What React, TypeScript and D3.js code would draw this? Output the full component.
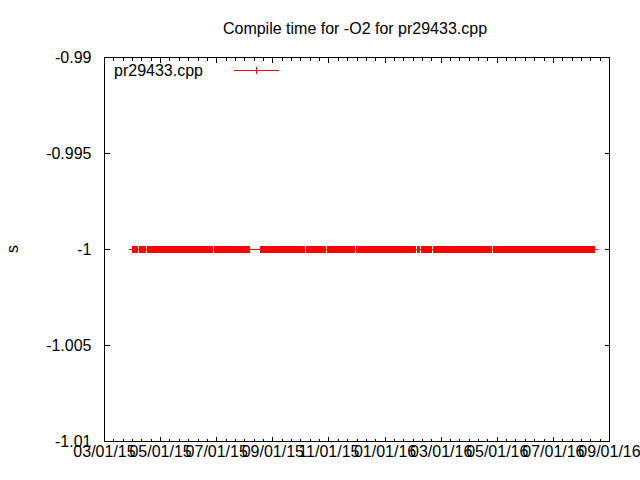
import React from 'react';
import * as d3 from 'd3';

const title = 'Compile time for -O2 for pr29433.cpp';
const seriesName = 'pr29433.cpp';
const yLabel = 's';

const xDomain = ['2015-03-01', '2016-09-01'];
const xTickLabels = [
  '03/01/15', '05/01/15', '07/01/15', '09/01/15', '11/01/15',
  '01/01/16', '03/01/16', '05/01/16', '07/01/16', '09/01/16',
];
const yTicks = [-0.99, -0.995, -1, -1.005, -1.01];
const yTickLabels = ['-0.99', '-0.995', '-1', '-1.005', '-1.01'];

const runStart = [
  '2015-04-01', '2015-04-08', '2015-04-17', '2015-06-29', '2015-08-18', '2015-10-07',
  '2015-10-30', '2015-11-30', '2016-02-05', '2016-02-09', '2016-02-22', '2016-04-28',
];
const runEnd = [
  '2015-04-06', '2015-04-15', '2015-06-27', '2015-08-06', '2015-10-05', '2015-10-28',
  '2015-11-28', '2016-02-03', '2016-02-07', '2016-02-20', '2016-04-26', '2016-08-16',
];
const runValue = [-1, -1, -1, -1, -1, -1, -1, -1, -1, -1, -1, -1];

const FONT = '"Liberation Sans", Arial, sans-serif';
const RED = '#ff0000';

export default function App() {
  const left = 104.5, right = 609.5, top = 57.5, bottom = 441.5;
  const parse = (s: string) => new Date(s + 'T00:00:00Z');

  const x = d3.scaleUtc().domain(xDomain.map(parse)).range([left, right]);
  const y = d3.scaleLinear().domain([-1.01, -0.99]).range([bottom, top]);
  const tickIdx = d3.scaleLinear().domain([0, xTickLabels.length - 1]).range([left, right]);

  const data: { date: Date; value: number }[] = [];
  runStart.forEach((s, i) => {
    const days = d3.utcDay.range(parse(s), d3.utcDay.offset(parse(runEnd[i]), 1));
    days.forEach((d) => data.push({ date: d, value: runValue[i] }));
  });

  const line = d3.line<{ date: Date; value: number }>()
    .x((d) => x(d.date))
    .y((d) => y(d.value));

  const h = 3.5;
  const plusPath = data
    .map((d) => {
      const px = x(d.date), py = y(d.value);
      return `M${px - h},${py}H${px + h}M${px},${py - h}V${py + h}`;
    })
    .join('');

  const majorLen = 5, minorLen = 3;
  const minorIdx: number[] = [];
  for (let i = 0; i < xTickLabels.length - 1; i++) {
    for (let k = 1; k < 6; k++) minorIdx.push(i + k / 6);
  }

  const legendY = 70.5;

  return (
    <svg width={640} height={480} style={{ position: 'absolute', left: 0, top: 0, background: '#fff' }}
      fontFamily={FONT}>
      <rect x={0} y={0} width={640} height={480} fill="#fff" />
      <text x={355} y={34} fontSize={16} textAnchor="middle" fill="#000">{title}</text>

      {/* y ticks */}
      <g shapeRendering="crispEdges" stroke="#000" strokeWidth={1}>
        {yTicks.map((t) => (
          <g key={'y' + t}>
            <line x1={left} x2={left + majorLen} y1={y(t)} y2={y(t)} />
            <line x1={right} x2={right - majorLen} y1={y(t)} y2={y(t)} />
          </g>
        ))}
        {xTickLabels.map((l, i) => (
          <g key={'xm' + l}>
            <line x1={tickIdx(i)} x2={tickIdx(i)} y1={bottom} y2={bottom - majorLen} />
            <line x1={tickIdx(i)} x2={tickIdx(i)} y1={top} y2={top + majorLen} />
          </g>
        ))}
        {minorIdx.map((v) => (
          <g key={'xn' + v}>
            <line x1={tickIdx(v)} x2={tickIdx(v)} y1={bottom} y2={bottom - minorLen} />
            <line x1={tickIdx(v)} x2={tickIdx(v)} y1={top} y2={top + minorLen} />
          </g>
        ))}
        <rect x={left} y={top} width={right - left} height={bottom - top} fill="none" />
      </g>

      {yTicks.map((t, i) => (
        <text key={'yl' + t} x={91.5} y={y(t) + 5.5} fontSize={16} textAnchor="end" fill="#000">
          {yTickLabels[i]}
        </text>
      ))}
      {xTickLabels.map((l, i) => (
        <text key={'xl' + l} x={tickIdx(i)} y={457} fontSize={16} textAnchor="middle" fill="#000">
          {l}
        </text>
      ))}

      <text transform="translate(18,249) rotate(-90)" fontSize={16} textAnchor="middle" fill="#000">
        {yLabel}
      </text>

      {/* series */}
      <g shapeRendering="crispEdges">
        <path d={line(data) || ''} fill="none" stroke={RED} strokeWidth={1} />
        <path d={plusPath} fill="none" stroke={RED} strokeWidth={1} />
      </g>

      {/* legend */}
      <text x={114} y={76} fontSize={16} fill="#000">{seriesName}</text>
      <g shapeRendering="crispEdges" stroke={RED} strokeWidth={1}>
        <line x1={234} x2={279} y1={legendY} y2={legendY} />
        <line x1={256.5} x2={256.5} y1={legendY - h} y2={legendY + h} />
      </g>
    </svg>
  );
}
